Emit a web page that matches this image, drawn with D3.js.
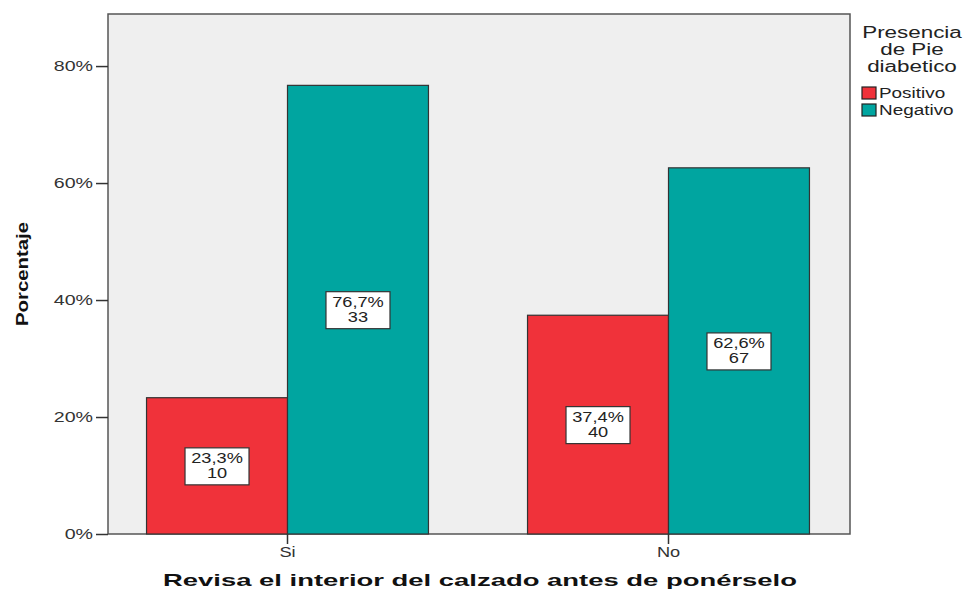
<!DOCTYPE html>
<html><head><meta charset="utf-8">
<script src="https://cdn.jsdelivr.net/npm/d3@7"></script>
<style>body{margin:0;background:#fff}svg text{font-family:"Liberation Sans",Arial,sans-serif}</style>
</head><body>
<svg id="c" width="967" height="592"></svg>
<script>
const categories = ["Si", "No"];
const seriesNames = ["Positivo", "Negativo"];
const positivoPct = [23.3, 37.4];
const negativoPct = [76.7, 62.6];
const positivoN = [10, 40];
const negativoN = [33, 67];
const yTicks = [0, 20, 40, 60, 80];
const legendTitle = ["Presencia", "de Pie", "diabetico"];
const xTitle = "Revisa el interior del calzado antes de ponérselo";
const yTitle = "Porcentaje";

const colors = {Positivo: "#f0323a", Negativo: "#00a5a0"};
const svg = d3.select("#c");
const L = 108, R = 850, T = 14, B = 534;

const y = d3.scaleLinear().domain([0, 88.9]).range([B, T]);
const x = d3.scaleBand().domain(categories).range([L - 11, R + 9]).paddingInner(0.26).paddingOuter(0.13);
const xs = d3.scaleBand().domain(seriesNames).range([0, x.bandwidth()]);

function stretch(sel, f) {
  sel.each(function () {
    const w = this.getComputedTextLength();
    d3.select(this).attr("textLength", w * f).attr("lengthAdjust", "spacingAndGlyphs");
  });
}

svg.append("rect").attr("x", L).attr("y", T).attr("width", R - L).attr("height", B - T)
  .attr("fill", "#efefef").attr("stroke", "#555").attr("stroke-width", 1.5);

const data = [];
categories.forEach((c, i) => {
  data.push({cat: c, s: "Positivo", v: positivoPct[i], n: positivoN[i]});
  data.push({cat: c, s: "Negativo", v: negativoPct[i], n: negativoN[i]});
});

svg.append("g").selectAll("rect").data(data).join("rect")
  .attr("x", d => x(d.cat) + xs(d.s))
  .attr("y", d => y(d.v))
  .attr("width", xs.bandwidth())
  .attr("height", d => y(0) - y(d.v))
  .attr("fill", d => colors[d.s])
  .attr("stroke", "#333").attr("stroke-width", 1.2);

// value labels
const lab = svg.append("g").selectAll("g").data(data).join("g")
  .attr("transform", d => `translate(${x(d.cat) + xs(d.s) + xs.bandwidth() / 2},${y(d.v / 2)})`);
lab.append("rect").attr("x", -32).attr("y", -18).attr("width", 64).attr("height", 37)
  .attr("fill", "#fff").attr("stroke", "#333").attr("stroke-width", 1.2);
lab.append("text").attr("text-anchor", "middle").attr("y", -3).attr("font-size", 14).attr("fill", "#222")
  .text(d => d.v.toFixed(1).replace(".", ",") + "%").call(stretch, 1.3);
lab.append("text").attr("text-anchor", "middle").attr("y", 12).attr("font-size", 14).attr("fill", "#222")
  .text(d => d.n).call(stretch, 1.3);

// y axis
const ya = svg.append("g").attr("transform", `translate(${L},0)`)
  .call(d3.axisLeft(y).tickValues(yTicks).tickFormat(d => d + "%").tickSize(12).tickSizeOuter(0));
ya.select(".domain").remove();
ya.selectAll("line").attr("stroke", "#333").attr("stroke-width", 1.5);
ya.selectAll("text").attr("font-size", 14).attr("fill", "#333").attr("x", -15).attr("dy", "0.35em")
  .call(stretch, 1.4);

// x axis
const xa = svg.append("g").attr("transform", `translate(0,${B})`)
  .call(d3.axisBottom(x).tickSize(10).tickSizeOuter(0));
xa.select(".domain").remove();
xa.selectAll("line").attr("stroke", "#333").attr("stroke-width", 1.5);
xa.selectAll("text").attr("font-size", 14).attr("fill", "#333").attr("y", 13).attr("dy", "0.71em")
  .call(stretch, 1.3);

// axis titles
svg.append("text").attr("x", 480).attr("y", 586).attr("text-anchor", "middle")
  .attr("font-size", 17).attr("font-weight", "bold").attr("fill", "#111").text(xTitle)
  .attr("textLength", 634).attr("lengthAdjust", "spacingAndGlyphs");
svg.append("text").attr("transform", "translate(28,274) rotate(-90)").attr("text-anchor", "middle")
  .attr("font-size", 17).attr("font-weight", "bold").attr("fill", "#111").text(yTitle)
  .attr("textLength", 104).attr("lengthAdjust", "spacingAndGlyphs");

// legend
const lg = svg.append("g");
lg.selectAll("text.t").data(legendTitle).join("text").attr("class", "t")
  .attr("x", 912).attr("y", (d, i) => 38 + i * 17).attr("text-anchor", "middle")
  .attr("font-size", 16).attr("fill", "#222").text(d => d).call(stretch, 1.4);
const li = lg.selectAll("g.i").data(seriesNames).join("g").attr("class", "i")
  .attr("transform", (d, i) => `translate(862,${87 + i * 17})`);
li.append("rect").attr("width", 14).attr("height", 12).attr("fill", d => colors[d])
  .attr("stroke", "#222").attr("stroke-width", 1.2);
li.append("text").attr("x", 17).attr("y", 11).attr("font-size", 14).attr("fill", "#222")
  .text(d => d).call(stretch, 1.35);
</script>
</body></html>
